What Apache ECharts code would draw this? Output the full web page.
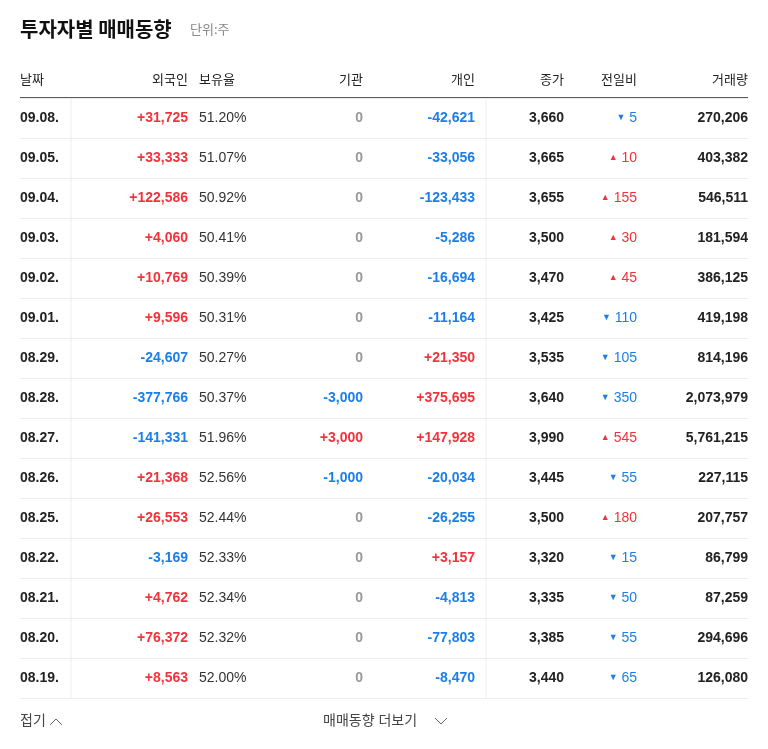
<!DOCTYPE html><html><head><meta charset="utf-8">
<script src="https://cdn.jsdelivr.net/npm/echarts@6/dist/echarts.min.js"></script>
<style>html,body{margin:0;background:#fff}#c{width:768px;height:749px}</style></head><body><div id="c"></div>
<script>
const dates=["09.08.","09.05.","09.04.","09.03.","09.02.","09.01.","08.29.","08.28.","08.27.","08.26.","08.25.","08.22.","08.21.","08.20.","08.19."];
const foreign=[31725,33333,122586,4060,10769,9596,-24607,-377766,-141331,21368,26553,-3169,4762,76372,8563];
const holding=["51.20%","51.07%","50.92%","50.41%","50.39%","50.31%","50.27%","50.37%","51.96%","52.56%","52.44%","52.33%","52.34%","52.32%","52.00%"];
const inst=[0,0,0,0,0,0,0,-3000,3000,-1000,0,0,0,0,0];
const indiv=[-42621,-33056,-123433,-5286,-16694,-11164,21350,375695,147928,-20034,-26255,3157,-4813,-77803,-8470];
const closePx=[3660,3665,3655,3500,3470,3425,3535,3640,3990,3445,3500,3320,3335,3385,3440];
const change=[-5,10,155,30,45,-110,-105,-350,545,-55,180,-15,-50,-55,-65];
const volume=[270206,403382,546511,181594,386125,419198,814196,2073979,5761215,227115,207757,86799,87259,294696,126080];
const headers=["날짜","외국인","보유율","기관","개인","종가","전일비","거래량"];
const RED="#f0333d",BLUE="#1d7ee6",F="'Liberation Sans','Noto Sans CJK KR',sans-serif";
const fmt=v=>v.toLocaleString('en-US');
const sgn=v=>v>0?'+'+fmt(v):v<0?'-'+fmt(-v):'0';
const col=v=>v>0?RED:v<0?BLUE:'#999';
const chart=echarts.init(document.getElementById('c'));
function txt(x,y,s,c,w,align){return{type:'text',x,y,style:{text:s,fill:c,font:`${w} 14px ${F}`,textAlign:align,textVerticalAlign:'middle'}};}
chart.setOption({
animation:false,
grid:{left:20,right:20,top:98,height:600},
xAxis:{type:'value',min:20,max:748,show:false},
yAxis:{type:'category',inverse:true,data:dates,axisLine:{show:false},axisTick:{show:false},axisLabel:{show:false},
 splitLine:{show:true,lineStyle:{color:'#ececec'}}},
series:[{type:'custom',data:dates.map((d,i)=>[i]),renderItem:(p,api)=>{
 const i=api.value(0);const y=api.coord([20,i])[1];
 const ch=change[i];
 return{type:'group',children:[
  txt(20,y,dates[i],'#222','bold','left'),
  txt(188,y,sgn(foreign[i]),col(foreign[i]),'bold','right'),
  txt(199,y,holding[i],'#333','normal','left'),
  txt(363,y,sgn(inst[i]),col(inst[i]),'bold','right'),
  txt(475,y,sgn(indiv[i]),col(indiv[i]),'bold','right'),
  txt(564,y,fmt(closePx[i]),'#222','bold','right'),
  {type:'text',x:637,y:y,style:{text:'{a|'+(ch>0?'▲':'▼')+'} '+Math.abs(ch),fill:ch>0?RED:BLUE,font:`normal 14px ${F}`,textAlign:'right',textVerticalAlign:'middle',rich:{a:{fontSize:9,fill:ch>0?RED:BLUE}}}},
  txt(748,y,fmt(volume[i]),'#222','bold','right')
 ]};}}],
graphic:[
 {type:'text',left:20,top:19,style:{text:'투자자별 매매동향',font:`bold 20px 'Noto Sans CJK KR',sans-serif`,fill:'#111'}},
 {type:'text',left:190,top:23,style:{text:'단위:주',font:`normal 13px 'Noto Sans CJK KR',sans-serif`,fill:'#888'}},
 ...headers.map((h,k)=>({type:'text',x:[20,188,199,363,475,564,637,748][k],y:80,style:{text:h,font:`normal 13px ${F}`,fill:'#222',textAlign:[ 'left','right','left','right','right','right','right','right'][k],textVerticalAlign:'middle'}})),
 {type:'line',shape:{x1:20,y1:98,x2:748,y2:98},style:{stroke:'#222',lineWidth:1.5}},
 {type:'rect',shape:{x:0,y:697,width:768,height:3},style:{fill:'#fff'}},
 {type:'line',shape:{x1:71,y1:99,x2:71,y2:698},style:{stroke:'#eee',lineWidth:1}},
 {type:'line',shape:{x1:486,y1:99,x2:486,y2:698},style:{stroke:'#eee',lineWidth:1}},
 {type:'text',x:20,y:721,style:{text:'접기',font:`normal 14px ${F}`,fill:'#444',textVerticalAlign:'middle'}},
 {type:'polyline',shape:{points:[[50,725],[56,719],[62,725]]},style:{stroke:'#666',fill:null,lineWidth:1}},
 {type:'text',x:323,y:721,style:{text:'매매동향 더보기',font:`normal 14px ${F}`,fill:'#444',textVerticalAlign:'middle'}},
 {type:'polyline',shape:{points:[[435,718],[441,724],[447,718]]},style:{stroke:'#666',fill:null,lineWidth:1}}
]});
</script></body></html>
